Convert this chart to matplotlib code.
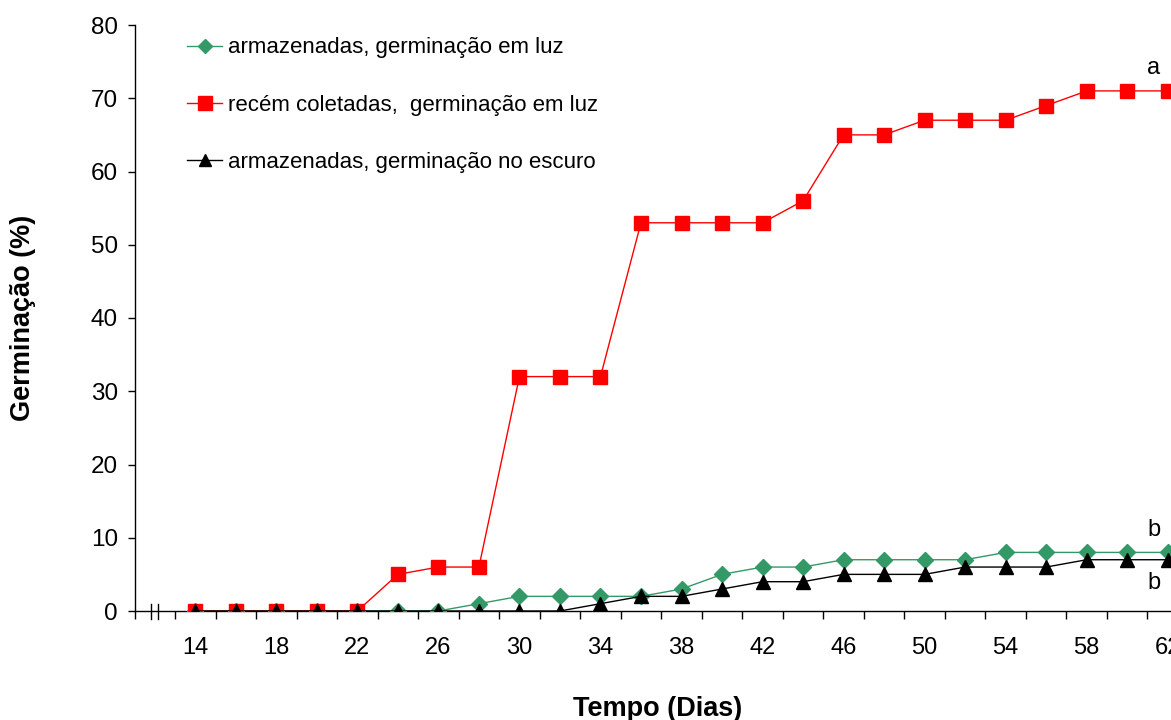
import matplotlib
matplotlib.use("Agg")
import matplotlib.pyplot as plt
from matplotlib.lines import Line2D

plt.rcParams['font.family'] = ['Liberation Sans', 'DejaVu Sans']

dias = [14, 16, 18, 20, 22, 24, 26, 28, 30, 32, 34, 36, 38, 40, 42, 44,
        46, 48, 50, 52, 54, 56, 58, 60, 62]
armazenadas_luz = [0, 0, 0, 0, 0, 0, 0, 1, 2, 2, 2, 2, 3, 5, 6, 6,
                   7, 7, 7, 7, 8, 8, 8, 8, 8]
recem_luz = [0, 0, 0, 0, 0, 5, 6, 6, 32, 32, 32, 53, 53, 53, 53, 56,
             65, 65, 67, 67, 67, 69, 71, 71, 71]
armazenadas_escuro = [0, 0, 0, 0, 0, 0, 0, 0, 0, 0, 1, 2, 2, 3, 4, 4,
                      5, 5, 5, 6, 6, 6, 7, 7, 7]
x_labels = [14, 18, 22, 26, 30, 34, 38, 42, 46, 50, 54, 58, 62]
y_ticks = [0, 10, 20, 30, 40, 50, 60, 70, 80]

labels = ["armazenadas, germinação em luz",
          "recém coletadas,  germinação em luz",
          "armazenadas, germinação no escuro"]

fig = plt.figure(figsize=(11.71, 7.2), dpi=100)
ax = fig.add_axes([134.5 / 1171, 1 - 611 / 720, (1188 - 134.5) / 1171, (611 - 25) / 720])

green = '#339966'
l1, = ax.plot(dias, armazenadas_luz, color=green, lw=1.0, marker='D', ms=8.5,
              mfc=green, mec=green, zorder=3)
l2, = ax.plot(dias, recem_luz, color='#FF0000', lw=1.0, marker='s', ms=9.5,
              mfc='#FF0000', mec='#FF0000', zorder=4)
l3, = ax.plot(dias, armazenadas_escuro, color='black', lw=1.0, marker='^', ms=10,
              mfc='black', mec='black', zorder=5)

ax.set_xlim(11, 63)
ax.set_ylim(0, 80)
for s in ['top', 'right']:
    ax.spines[s].set_visible(False)
for s in ['left', 'bottom']:
    ax.spines[s].set_linewidth(1.0)
    ax.spines[s].set_color('black')

ax.set_yticks(y_ticks)
ax.tick_params(axis='y', direction='out', length=5, width=1, labelsize=17.5, pad=7)

major_x = list(range(11, 64, 2))
ax.set_xticks(major_x)
ax.set_xticklabels([])
ax.tick_params(axis='x', which='major', direction='out', length=6, width=1)
ax.set_xticks(x_labels, minor=True)
ax.set_xticklabels([str(v) for v in x_labels], minor=True)
ax.tick_params(axis='x', which='minor', length=0, labelsize=17, pad=19)

# axis break marks
for xb in [11.8, 12.15]:
    ax.plot([xb, xb], [-1.1, 0.9], color='black', lw=1.0, clip_on=False, zorder=6)

ax.set_ylabel('Germinação (%)', fontsize=19.5, fontweight='bold')
ax.set_xlabel('Tempo (Dias)', fontsize=19.5, fontweight='bold')
ax.yaxis.set_label_coords((36 - 134.5) / 1053.5, 0.5)
ax.xaxis.set_label_coords(0.497, (611 - 696) / 586)

ax.text(61.3, 74.1, 'a', fontsize=17, ha='center', va='center')
ax.text(61.3, 11.0, 'b', fontsize=17, ha='center', va='center')
ax.text(61.3, 3.8, 'b', fontsize=17, ha='center', va='center')

h1 = Line2D([], [], color=green, lw=1.0, marker='D', ms=7.5, mfc=green, mec=green)
h2 = Line2D([], [], color='#FF0000', lw=1.0, marker='s', ms=9.5, mfc='#FF0000', mec='#FF0000')
h3 = Line2D([], [], color='black', lw=1.0, marker='^', ms=9, mfc='black', mec='black')
fig.legend([h1, h2, h3], labels, loc='upper left',
           bbox_to_anchor=(187 / 1171, 1 - 37.5 / 720), frameon=False,
           fontsize=16, handlelength=1.58, handletextpad=0.27,
           labelspacing=1.63, borderpad=0, borderaxespad=0)

fig.savefig('out.png', dpi=100)
